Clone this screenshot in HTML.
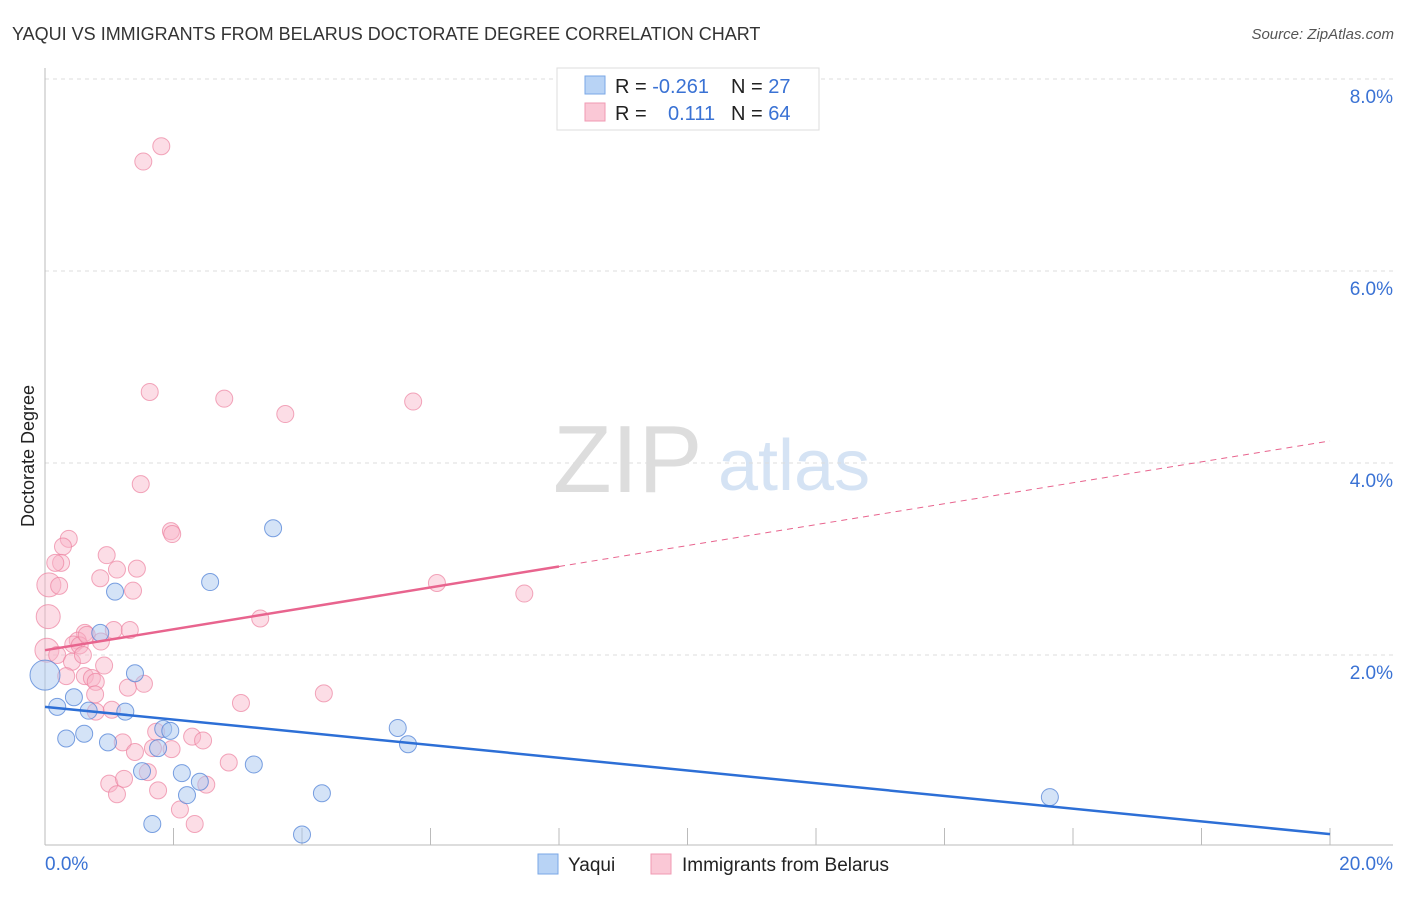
<!DOCTYPE html>
<html><head><meta charset="utf-8"><style>
body{margin:0;background:#fff;font-family:"Liberation Sans",sans-serif}
svg text{font-family:"Liberation Sans",sans-serif}
</style></head><body>
<svg id="c" width="1406" height="892" xmlns="http://www.w3.org/2000/svg">
<text x="12" y="40" font-size="18" fill="#333">YAQUI VS IMMIGRANTS FROM BELARUS DOCTORATE DEGREE CORRELATION CHART</text>
<text x="1394" y="39" font-size="15" fill="#555" font-style="italic" text-anchor="end">Source: ZipAtlas.com</text>
<text x="34" y="456" font-size="18" fill="#222" text-anchor="middle" transform="rotate(-90 34 456)">Doctorate Degree</text>
<g>
<text x="553" y="492" font-size="96" fill="#ddd" font-family="Liberation Serif,serif">ZIP</text>
<text x="718" y="490" font-size="72" fill="#d5e3f4">atlas</text>
</g>
<g id="grid"></g>
<g id="axes"></g>
<g id="pts"></g>
<g id="trend"></g>
<g>
<rect x="557" y="68" width="262" height="62" fill="#fff" stroke="#ddd"/>
<rect x="585" y="76" width="20" height="18" fill="#b8d3f5" stroke="#7aa7e6"/>
<rect x="585" y="103" width="20" height="18" fill="#fac8d6" stroke="#f09ab3"/>
<text x="615" y="93" font-size="20" fill="#222">R = <tspan fill="#3a72d4">-0.261</tspan></text>
<text x="731" y="93" font-size="20" fill="#222">N = <tspan fill="#3a72d4">27</tspan></text>
<text x="615" y="120" font-size="20" fill="#222">R = <tspan fill="#3a72d4" x="668">0.111</tspan></text>
<text x="731" y="120" font-size="20" fill="#222">N = <tspan fill="#3a72d4">64</tspan></text>
</g>
<g>
<rect x="538" y="854" width="20" height="20" fill="#b8d3f5" stroke="#7aa7e6"/>
<text x="568" y="871" font-size="19" fill="#222">Yaqui</text>
<rect x="651" y="854" width="20" height="20" fill="#fac8d6" stroke="#f09ab3"/>
<text x="682" y="871" font-size="19" fill="#222">Immigrants from Belarus</text>
</g>
</svg>
<script>
const yTicks=[2,4,6,8];
const yTickLabels=["2.0%","4.0%","6.0%","8.0%"];
const xTicks=[0,2,4,6,8,10,12,14,16,18,20];
const xEndLabels=["0.0%","20.0%"];
const yaquiX=[0,0.19,0.45,0.33,0.61,0.68,0.98,1.09,0.86,1.25,1.40,1.51,1.67,1.76,1.84,1.95,2.13,2.21,2.41,2.57,3.25,3.55,4.00,4.31,5.49,5.65,15.64];
const yaquiY=[1.79,1.46,1.56,1.13,1.18,1.42,1.09,2.66,2.23,1.41,1.81,0.79,0.24,1.03,1.23,1.21,0.77,0.54,0.68,2.76,0.86,3.32,0.13,0.56,1.24,1.07,0.52];
const belX=[1.53,1.81,1.63,2.79,3.74,5.73,1.49,1.96,1.98,0.37,0.28,0.25,0.16,0.06,0.22,0.96,1.43,1.12,0.86,1.37,0.05,3.35,6.10,7.46,1.07,1.32,0.62,0.51,0.44,0.54,0.65,0.87,0.03,0.19,0.42,0.59,0.92,0.33,0.62,0.73,0.79,0.78,1.29,1.54,3.05,4.34,0.79,1.04,1.21,1.40,1.68,1.73,1.97,2.29,2.46,2.86,1.00,1.12,1.23,1.60,1.76,2.10,2.33,2.51];
const belY=[7.14,7.30,4.74,4.67,4.51,4.64,3.78,3.29,3.26,3.21,3.13,2.96,2.96,2.73,2.72,3.04,2.90,2.89,2.80,2.67,2.40,2.38,2.75,2.64,2.26,2.26,2.23,2.15,2.11,2.10,2.21,2.14,2.05,2.00,1.93,2.00,1.89,1.78,1.78,1.76,1.72,1.59,1.66,1.70,1.50,1.60,1.41,1.43,1.09,0.99,1.03,1.20,1.02,1.15,1.11,0.88,0.66,0.55,0.71,0.78,0.59,0.39,0.24,0.65];
const yaquiTrend=[1.46,-0.0663];
const belTrend=[2.05,0.109];
const belSolidEnd=8;
const NS="http://www.w3.org/2000/svg";
const X=v=>45+v/20*1285, Y=v=>847-v*96;
function mk(p,t,a){const e=document.createElementNS(NS,t);for(const k in a)e.setAttribute(k,a[k]);p.appendChild(e);return e;}
const grid=document.getElementById('grid'),axes=document.getElementById('axes'),pts=document.getElementById('pts'),tr=document.getElementById('trend');
yTicks.forEach((t,i)=>{
 const l=mk(grid,'line',{x1:45,x2:1393,y1:Y(t),y2:Y(t),stroke:'#ddd','stroke-dasharray':'4,4'});
 
 
 const tx=mk(axes,'text',{x:1393,y:Y(t)+24,'font-size':19,fill:'#3a72d4','text-anchor':'end'});
 tx.textContent=yTickLabels[i];
 
 
});
const al=mk(axes,'line',{x1:45,x2:45,y1:68,y2:845,stroke:'#bbb'});


const bl=mk(axes,'line',{x1:45,x2:1393,y1:845,y2:845,stroke:'#bbb'});


xTicks.forEach(t=>{
 const l=mk(axes,'line',{x1:X(t),x2:X(t),y1:828,y2:845,stroke:'#bbb'});
 
 
});
[[0,'start'],[20,'end']].forEach((d,i)=>{
 const tx=mk(axes,'text',{x:i?1393:45,y:870,'font-size':19,fill:'#3a72d4','text-anchor':d[1]});
 tx.textContent=xEndLabels[i];
 
 
});
belX.forEach((v,i)=>{
 const big=v<0.1;
 const c=mk(pts,'circle',{cx:X(v),cy:Y(belY[i]),r:big?12:8.5,fill:'rgba(248,180,200,0.45)',stroke:'rgba(236,130,160,0.7)','stroke-width':1});
 
 
});
yaquiX.forEach((v,i)=>{
 const c=mk(pts,'circle',{cx:X(v),cy:Y(yaquiY[i]),r:i==0?15:8.5,fill:'rgba(170,200,240,0.5)',stroke:'rgba(80,130,215,0.75)','stroke-width':1});
 
 
});
const f=(t,x)=>t[0]+t[1]*x;
const l1=mk(tr,'line',{x1:X(0),y1:Y(f(yaquiTrend,0)),x2:X(20),y2:Y(f(yaquiTrend,20)),stroke:'#2d6fd6','stroke-width':2.5});


const l2=mk(tr,'line',{x1:X(0),y1:Y(f(belTrend,0)),x2:X(belSolidEnd),y2:Y(f(belTrend,belSolidEnd)),stroke:'#e8648e','stroke-width':2.5});


const l3=mk(tr,'line',{x1:X(belSolidEnd),y1:Y(f(belTrend,belSolidEnd)),x2:X(20),y2:Y(f(belTrend,20)),stroke:'#e8648e','stroke-width':1,'stroke-dasharray':'6,5'});


</script>
</body></html>
